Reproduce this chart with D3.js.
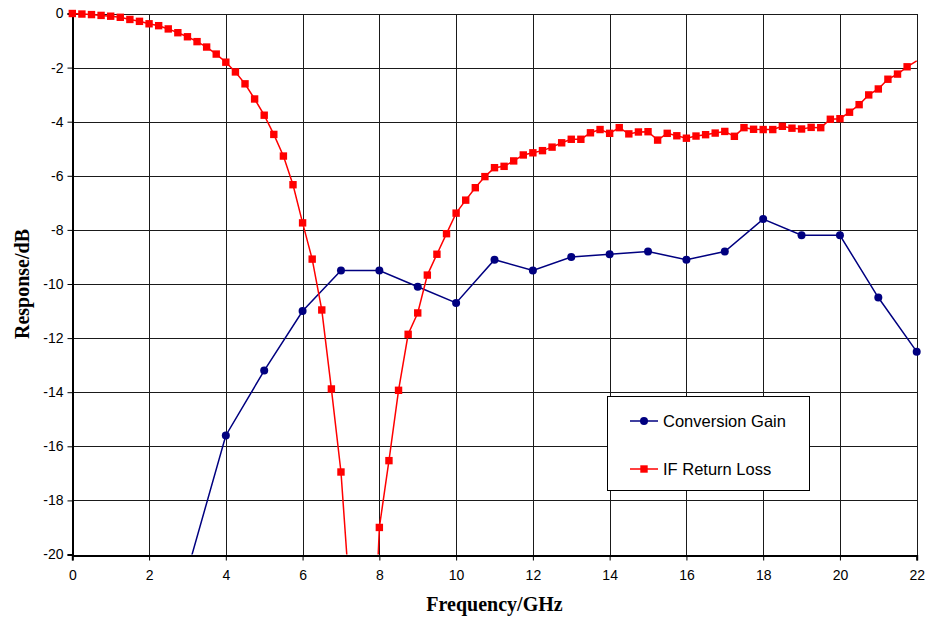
<!DOCTYPE html>
<html>
<head>
<meta charset="utf-8">
<script src="https://cdn.jsdelivr.net/npm/d3@7"></script>
<style>
  html, body { margin: 0; padding: 0; background: #fff; }
  svg { display: block; }
</style>
</head>
<body>
<svg id="chart" width="927" height="619"></svg>
<script>
// Conversion gain, measured at 1 GHz steps
const gainFreq = [3, 4, 5, 6, 7, 8, 9, 10, 11, 12, 13, 14, 15, 16, 17, 18, 19, 20, 21, 22];
const gainDb = [-20.6, -15.6, -13.2, -11.0, -9.5, -9.5, -10.1, -10.7, -9.1, -9.5, -9.0, -8.9, -8.8, -9.1, -8.8, -7.6, -8.2, -8.2, -10.5, -12.5];

// IF return loss, measured at 0.25 GHz steps
const rlFreq = [
  0, 0.25, 0.5, 0.75, 1, 1.25, 1.5, 1.75, 2, 2.25, 2.5, 2.75, 3, 3.25, 3.5, 3.75,
  4, 4.25, 4.5, 4.75, 5, 5.25, 5.5, 5.75, 6, 6.25, 6.5, 6.75, 7, 7.25, 7.5, 7.75,
  8, 8.25, 8.5, 8.75, 9, 9.25, 9.5, 9.75, 10, 10.25, 10.5, 10.75, 11, 11.25, 11.5, 11.75,
  12, 12.25, 12.5, 12.75, 13, 13.25, 13.5, 13.75, 14, 14.25, 14.5, 14.75, 15, 15.25, 15.5, 15.75,
  16, 16.25, 16.5, 16.75, 17, 17.25, 17.5, 17.75, 18, 18.25, 18.5, 18.75, 19, 19.25, 19.5, 19.75,
  20, 20.25, 20.5, 20.75, 21, 21.25, 21.5, 21.75, 22
];
const rlDb = [
  0, -0.02, -0.04, -0.07, -0.1, -0.14, -0.22, -0.29, -0.38, -0.45, -0.57, -0.71, -0.86, -1.04, -1.24, -1.5,
  -1.8, -2.16, -2.6, -3.16, -3.76, -4.47, -5.27, -6.33, -7.74, -9.08, -10.96, -13.88, -16.95, -22.0, -30.0, -27.3,
  -19.0, -16.53, -13.93, -11.86, -11.07, -9.67, -8.9, -8.14, -7.38, -6.9, -6.44, -6.03, -5.7, -5.65, -5.45, -5.23,
  -5.15, -5.07, -4.94, -4.78, -4.65, -4.65, -4.41, -4.29, -4.43, -4.22, -4.45, -4.38, -4.37, -4.68, -4.43, -4.52,
  -4.61, -4.53, -4.48, -4.42, -4.36, -4.54, -4.22, -4.28, -4.29, -4.29, -4.17, -4.24, -4.27, -4.21, -4.22, -3.91,
  -3.89, -3.65, -3.37, -3.01, -2.79, -2.43, -2.24, -1.97, -1.75
];

const xTicks = [0, 2, 4, 6, 8, 10, 12, 14, 16, 18, 20, 22];
const yTicks = [0, -2, -4, -6, -8, -10, -12, -14, -16, -18, -20];

const seriesNames = ["Conversion Gain", "IF Return Loss"];
const seriesColors = ["#000080", "#ff0000"];

const svg = d3.select("#chart");
const plotLeft = 72.3, plotRight = 916.7, plotTop = 13.5, plotBottom = 554.5;

const x = d3.scaleLinear().domain([0, 22]).range([plotLeft, plotRight]);
const y = d3.scaleLinear().domain([-20, 0]).range([plotBottom, plotTop]);

// clip region for the plot area
svg.append("defs").append("clipPath").attr("id", "plotClip")
  .append("rect")
  .attr("x", plotLeft).attr("y", plotTop - 6)
  .attr("width", plotRight - plotLeft + 6).attr("height", plotBottom - plotTop + 6);

// grid
const grid = svg.append("g").attr("shape-rendering", "crispEdges");
grid.selectAll("line.v").data(xTicks).join("line")
  .attr("x1", d => Math.round(x(d)) + 0.5).attr("x2", d => Math.round(x(d)) + 0.5)
  .attr("y1", plotTop).attr("y2", plotBottom)
  .attr("stroke", "#1a1a1a").attr("stroke-width", 1);
grid.selectAll("line.h").data(yTicks).join("line")
  .attr("y1", d => Math.round(y(d)) + 0.5).attr("y2", d => Math.round(y(d)) + 0.5)
  .attr("x1", plotLeft).attr("x2", plotRight)
  .attr("stroke", "#1a1a1a").attr("stroke-width", 1);
// plot frame
grid.append("rect")
  .attr("x", Math.round(plotLeft) + 0.5).attr("y", Math.round(plotTop) + 0.5)
  .attr("width", Math.round(plotRight) - Math.round(plotLeft))
  .attr("height", Math.round(plotBottom) - Math.round(plotTop))
  .attr("fill", "none").attr("stroke", "#1a1a1a").attr("stroke-width", 1);

// axes
const xAxis = d3.axisBottom(x).tickValues(xTicks).tickSize(5).tickPadding(10).tickFormat(d3.format("d"));
const yAxis = d3.axisLeft(y).tickValues(yTicks).tickSize(5).tickPadding(4).tickFormat(d => d === 0 ? "0" : "-" + Math.abs(d));

const gx = svg.append("g").attr("transform", `translate(0,${Math.round(plotBottom) + 0.5})`).call(xAxis);
const gy = svg.append("g").attr("transform", `translate(${Math.round(plotLeft) + 0.5},0)`).call(yAxis);
[gx, gy].forEach(g => {
  g.select(".domain").attr("stroke", "#000").attr("stroke-width", 2);
  g.selectAll(".tick line").attr("stroke", "#000");
  g.selectAll(".tick text").attr("fill", "#000")
    .style("font-family", "'Liberation Sans', Arial, sans-serif").style("font-size", "14px");
});

// axis titles
svg.append("text")
  .attr("x", (plotLeft + plotRight) / 2).attr("y", 611)
  .attr("text-anchor", "middle")
  .style("font-family", "'Liberation Serif', 'Times New Roman', serif")
  .style("font-weight", "bold").style("font-size", "20px")
  .text("Frequency/GHz");
svg.append("text")
  .attr("transform", `translate(29,${(plotTop + plotBottom) / 2}) rotate(-90)`)
  .attr("text-anchor", "middle")
  .style("font-family", "'Liberation Serif', 'Times New Roman', serif")
  .style("font-weight", "bold").style("font-size", "20px")
  .text("Response/dB");

const line = d3.line().x(d => x(d[0])).y(d => y(d[1]));
const plot = svg.append("g").attr("clip-path", "url(#plotClip)");

// conversion gain
const gainPts = gainFreq.map((f, i) => [f, gainDb[i]]);
plot.append("path").datum(gainPts)
  .attr("d", line).attr("fill", "none")
  .attr("stroke", seriesColors[0]).attr("stroke-width", 1.5);
plot.selectAll("circle.g").data(gainPts.filter(d => d[1] >= -20)).join("circle")
  .attr("cx", d => x(d[0])).attr("cy", d => y(d[1])).attr("r", 4)
  .attr("fill", seriesColors[0]);

// IF return loss
const rlPts = rlFreq.map((f, i) => [f, rlDb[i]]);
const rlPlot = svg.append("g");
rlPlot.append("path").datum(rlPts)
  .attr("d", line).attr("fill", "none")
  .attr("clip-path", "url(#plotClip)")
  .attr("stroke", seriesColors[1]).attr("stroke-width", 1.5);
rlPlot.selectAll("rect.r").data(rlPts.filter(d => d[1] >= -20 && d[0] < 22)).join("rect")
  .attr("x", d => x(d[0]) - 3.7).attr("y", d => y(d[1]) - 3.7)
  .attr("width", 7.4).attr("height", 7.4)
  .attr("fill", seriesColors[1]);

// legend
const lg = svg.append("g");
lg.append("rect")
  .attr("x", 607.5).attr("y", 396.5).attr("width", 202).attr("height", 94)
  .attr("fill", "#fff").attr("stroke", "#000").attr("stroke-width", 1);
const legendRows = [421, 469];
seriesNames.forEach((name, i) => {
  const ly = legendRows[i];
  lg.append("line").attr("x1", 630).attr("x2", 658).attr("y1", ly).attr("y2", ly)
    .attr("stroke", seriesColors[i]).attr("stroke-width", 1.5);
  if (i === 0) {
    lg.append("circle").attr("cx", 644).attr("cy", ly).attr("r", 4).attr("fill", seriesColors[i]);
  } else {
    lg.append("rect").attr("x", 644 - 3.7).attr("y", ly - 3.7).attr("width", 7.4).attr("height", 7.4)
      .attr("fill", seriesColors[i]);
  }
  lg.append("text").attr("x", 663).attr("y", ly + 5.8)
    .style("font-family", "'Liberation Sans', Arial, sans-serif").style("font-size", "16.5px")
    .text(name);
});
</script>
</body>
</html>
